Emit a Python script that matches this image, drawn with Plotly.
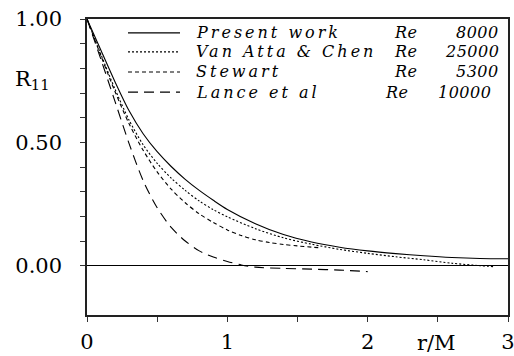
import plotly.graph_objects as go

# Longitudinal velocity correlation R11 versus separation r/M
present_x = [0, 0.1, 0.2, 0.3, 0.4, 0.5, 0.6, 0.7, 0.8, 0.9, 1.0, 1.2, 1.4, 1.6,
             1.8, 2.0, 2.2, 2.4, 2.6, 2.8, 3.0]
present_r = [1.0, 0.872, 0.745, 0.628, 0.535, 0.462, 0.402, 0.35, 0.305, 0.265, 0.228,
             0.17, 0.126, 0.096, 0.075, 0.06, 0.049, 0.04, 0.033, 0.029, 0.028]

vanatta_x = [0, 0.1, 0.2, 0.3, 0.4, 0.5, 0.6, 0.7, 0.8, 0.9, 1.0, 1.2, 1.4, 1.6,
             1.8, 2.0, 2.2, 2.4, 2.6, 2.8, 2.9]
vanatta_r = [1.0, 0.855, 0.715, 0.59, 0.49, 0.415, 0.355, 0.305, 0.262, 0.227, 0.198,
             0.15, 0.113, 0.087, 0.066, 0.05, 0.036, 0.024, 0.01, 0.0, -0.004]

stewart_x = [0, 0.1, 0.2, 0.3, 0.4, 0.5, 0.6, 0.7, 0.8, 0.9, 1.0, 1.1, 1.2, 1.3,
             1.4, 1.5, 1.6, 1.65]
stewart_r = [1.0, 0.85, 0.705, 0.575, 0.468, 0.38, 0.31, 0.255, 0.21, 0.175, 0.145,
             0.122, 0.105, 0.094, 0.086, 0.08, 0.075, 0.073]

lance_x = [0, 0.1, 0.2, 0.3, 0.4, 0.5, 0.6, 0.7, 0.8, 0.9, 1.0, 1.1, 1.2, 1.4,
           1.6, 1.8, 2.0]
lance_r = [1.0, 0.835, 0.665, 0.495, 0.345, 0.235, 0.155, 0.1, 0.06, 0.035, 0.017,
           0.003, -0.006, -0.011, -0.014, -0.018, -0.024]

series_names = ["Present work", "Van Atta & Chen", "Stewart", "Lance et al"]
series_re = ["8000", "25000", "5300", "10000"]
series_dash = ["solid", "2px,2px", "4px,3px", "10px,6px"]

y_tick_vals = [round(0.1 * i, 1) for i in range(11)]
y_tick_text = ["0.00" if v == 0 else "0.50" if v == 0.5 else "1.00" if v == 1.0 else ""
               for v in y_tick_vals]
x_tick_vals = [0, 0.5, 1, 1.5, 2, 2.5, 3]
x_tick_text = ["0", "", "1", "", "2", "", "3"]

serif = "DejaVu Serif"

fig = go.Figure()
for xs, ys, dash in zip([present_x, vanatta_x, stewart_x, lance_x],
                        [present_r, vanatta_r, stewart_r, lance_r], series_dash):
    fig.add_trace(go.Scatter(x=xs, y=ys, mode="lines",
                             line=dict(color="black", width=1.1, dash=dash,
                                       shape="spline", smoothing=0.8),
                             showlegend=False, hoverinfo="skip"))

# Hand-drawn key: line samples plus italic labels in columns
row_y = [0.953, 0.889, 0.821, 0.753]
re_x = [0.725, 0.725, 0.725, 0.704]
num_x = [0.983, 0.983, 0.983, 0.964]
shapes = []
annotations = []
wide = '<span style="letter-spacing:3px">%s</span>'
tight = '<span style="letter-spacing:0.5px">%s</span>'
for i in range(4):
    shapes.append(dict(type="line", xref="paper", yref="paper",
                       x0=0.0974, x1=0.221, y0=row_y[i], y1=row_y[i],
                       line=dict(color="black", width=1.1, dash=series_dash[i])))
    annotations.append(dict(xref="paper", yref="paper", x=0.254, y=row_y[i],
                            xanchor="left", yanchor="middle", showarrow=False,
                            text="<i>" + wide % series_names[i] + "</i>",
                            font=dict(family=serif, size=16, color="black")))
    annotations.append(dict(xref="paper", yref="paper", x=re_x[i], y=row_y[i],
                            xanchor="left", yanchor="middle", showarrow=False,
                            text="<i>" + tight % "Re" + "</i>",
                            font=dict(family=serif, size=16, color="black")))
    annotations.append(dict(xref="paper", yref="paper", x=num_x[i], y=row_y[i],
                            xanchor="right", yanchor="middle", showarrow=False,
                            text="<i>" + tight % series_re[i] + "</i>",
                            font=dict(family=serif, size=16, color="black")))

annotations.append(dict(xref="paper", yref="paper", x=-0.1758, y=0.795,
                        xanchor="left", yanchor="middle", showarrow=False,
                        text="R<sub>11</sub>",
                        font=dict(family=serif, size=21, color="black")))
annotations.append(dict(xref="paper", yref="paper", x=0.831, y=-0.095,
                        xanchor="center", yanchor="middle", showarrow=False,
                        text="r/M",
                        font=dict(family=serif, size=21, color="black")))

fig.update_layout(
    width=514, height=356,
    margin=dict(l=87, r=6, t=19, b=41, autoexpand=False),
    paper_bgcolor="white", plot_bgcolor="white",
    shapes=shapes, annotations=annotations,
    xaxis=dict(range=[0, 3], tickvals=x_tick_vals, ticktext=x_tick_text,
               ticks="outside", ticklen=5, tickwidth=1, tickcolor="#333",
               showline=True, linecolor="#222", linewidth=1.5, mirror=True,
               showgrid=False, zeroline=False, ticklabelstandoff=2,
               ticklabeloverflow="allow", automargin=False,
               tickfont=dict(family=serif, size=21, color="black")),
    yaxis=dict(range=[-0.2, 1.0], tickvals=y_tick_vals, ticktext=y_tick_text,
               ticks="outside", ticklen=5, tickwidth=1, tickcolor="#333",
               showline=True, linecolor="#222", linewidth=1.5, mirror=True,
               showgrid=False, zeroline=True, zerolinecolor="black",
               zerolinewidth=1.2, ticklabelstandoff=14, automargin=False,
               tickfont=dict(family=serif, size=21, color="black")),
)

fig.write_html("out.html")
